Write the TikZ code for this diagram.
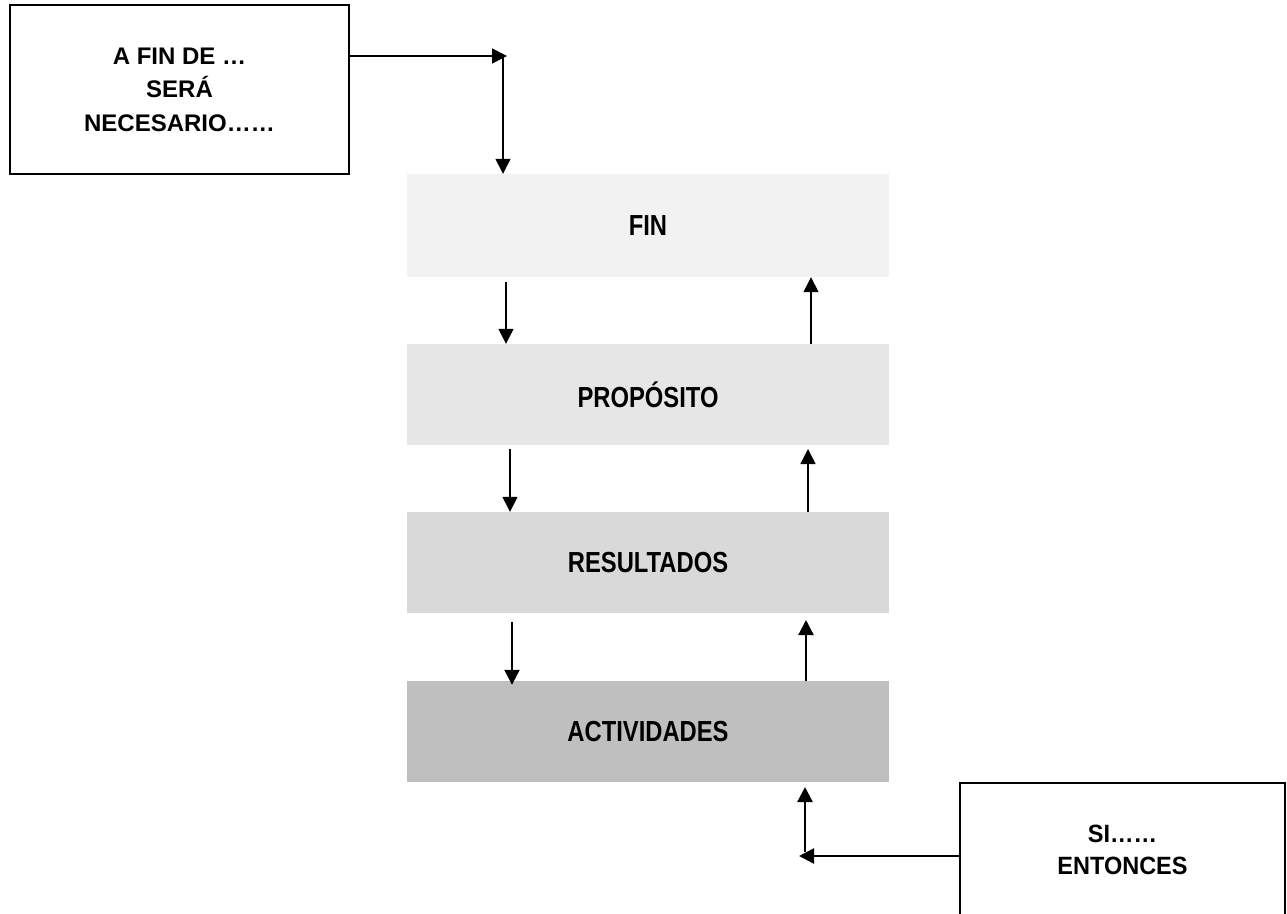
\documentclass[tikz,border=0pt]{standalone}
\usepackage{fontspec}
\setmainfont{Liberation Sans}
\newfontfamily\narrowfont[FakeStretch=0.82]{Liberation Sans}
\newfontfamily\semifont[FakeStretch=0.94]{Liberation Sans}
\usetikzlibrary{arrows.meta}
\definecolor{cfin}{HTML}{F2F2F2}
\definecolor{cprop}{HTML}{E6E6E6}
\definecolor{cres}{HTML}{D9D9D9}
\definecolor{cact}{HTML}{BFBFBF}
\begin{document}
\begin{tikzpicture}[x=1pt,y=-1pt,
  band/.style={draw=none, minimum width=482pt, inner sep=0pt,
    font=\narrowfont\bfseries\fontsize{29}{34}\selectfont},
  tbox/.style={draw, line width=2pt, inner sep=0pt, align=center,
    font=\bfseries\fontsize{24}{33.5}\selectfont},
  arr/.style={line width=1.5pt, -{Triangle[length=15pt,width=15pt]}},
  arrb/.style={arr, line width=2.2pt}]
\clip (0,0) rectangle (1287,913);
\fill[white] (0,0) rectangle (1287,913);
% boxes
\node[tbox, minimum width=339pt, minimum height=169pt] (b1) at (179.5,89.5)
  {A FIN DE …\\SERÁ\\NECESARIO……};
\node[band, fill=cfin,  minimum height=103pt] (fin)  at (648,225.5) {FIN};
\node[band, fill=cprop, minimum height=101pt] (prop) at (648,394.5) {PROPÓSITO};
\node[band, fill=cres,  minimum height=101pt] (res)  at (648,562.5) {RESULTADOS};
\node[band, fill=cact,  minimum height=101pt] (act)  at (648,731.5) {ACTIVIDADES};
\node[tbox, font=\semifont\bfseries\fontsize{25}{32}\selectfont,
  minimum width=325pt, minimum height=133pt] (b2) at (1122.5,849.5) {SI……\\ENTONCES};
% top connector
\coordinate (k1) at (507,56);
\coordinate (k1b) at (503,56);
\draw[arr] (b1.east |- k1) -- (k1);
\draw[arr] (k1b) -- (k1b |- fin.north);
% down arrows
\coordinate (d1) at (506,282);
\coordinate (d2) at (510,449);
\coordinate (d3) at (512,622);
\draw[arr] (d1) -- (d1 |- prop.north);
\draw[arr] (d2) -- (d2 |- res.north);
\draw[arrb, shorten >=-4pt] (d3) -- (d3 |- act.north);
% up arrows
\coordinate (u1) at (811,277);
\coordinate (u2) at (808,449);
\coordinate (u3) at (806,620);
\draw[arr] (u1 |- prop.north) -- (u1 |- fin.south);
\draw[arr] (u2 |- res.north) -- (u2);
\draw[arrb] (u3 |- act.north) -- (u3);
% bottom connector
\coordinate (u4) at (805,787);
\coordinate (u4s) at (805,852);
\coordinate (h) at (799,856);
\draw[arrb] (u4s) -- (u4);
\draw[arrb] (b2.west |- h) -- (h);
\end{tikzpicture}
\end{document}
